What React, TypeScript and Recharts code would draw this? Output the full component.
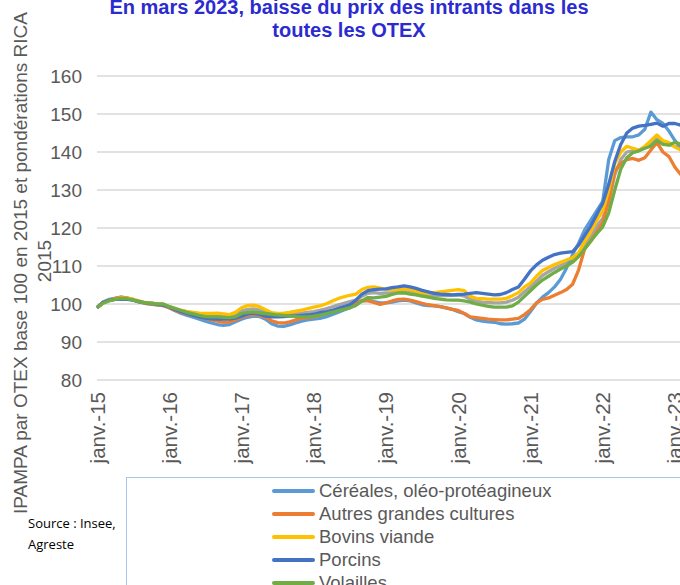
import { LineChart, Line, XAxis, YAxis, CartesianGrid } from 'recharts'

// IPAMPA par OTEX, mensuel, janv. 2015 -> mars 2023
const tickLabels = ['janv.-15', 'janv.-16', 'janv.-17', 'janv.-18', 'janv.-19', 'janv.-20', 'janv.-21', 'janv.-22', 'janv.-23']
const yTicks = [80, 90, 100, 110, 120, 130, 140, 150, 160]

const cereales = [
  99, 100.5, 101.2, 101.5, 101.8, 101.5, 101, 100.5, 100.2, 100, 99.8, 99.6,
  99, 98.2, 97.5, 97, 96.5, 96, 95.5, 95, 94.6, 94.4, 94.6, 95.3,
  96, 96.5, 96.8, 96.7, 96, 94.8, 94.2, 94.1, 94.5, 95, 95.5, 95.8,
  96, 96.2, 96.6, 97.2, 97.8, 98.4, 99, 99.8, 100.8, 101, 100.6, 100.3,
  100.3, 100.5, 100.8, 101, 100.8, 100.3, 99.8, 99.6, 99.5, 99.3, 99, 98.6,
  98, 97.5, 96.5, 95.8, 95.5, 95.3, 95.2, 94.8, 94.7, 94.8, 95, 96,
  98, 100.2, 101.8, 103, 104.5, 106.5, 109.5, 113, 116, 119.5, 122, 124.5,
  127, 138, 143, 143.8, 144, 144, 144.5, 146, 150.5, 148.5, 147.5, 145.5,
  143, 141, 139,
]
const autresGrandesCultures = [
  99, 100.5, 101, 101.5, 101.8, 101.6, 101.2, 100.6, 100.2, 100, 99.8, 99.6,
  99, 98.3, 97.8, 97.4, 97, 96.6, 96.2, 95.8, 95.5, 95.2, 95.3, 95.8,
  96.5, 97, 97.2, 97, 96.5, 95.6, 95.1, 95, 95.3, 95.8, 96.2, 96.4,
  96.6, 97, 97.5, 98, 98.4, 99, 99.6, 100.3, 100.9, 100.8, 100.4, 99.9,
  100.3, 100.8, 101.2, 101.3, 101, 100.6, 100.2, 99.8, 99.6, 99.3, 99, 98.6,
  98.3, 97.5, 96.6, 96.4, 96.2, 96, 95.9, 95.8, 95.8, 96, 96.2, 97.2,
  98.5, 100.3, 101.2, 101.6, 102.3, 103, 103.8, 105.2, 109, 114.5, 116.5, 119,
  121.5, 127, 135, 137, 138, 138.3, 137.8, 138.5, 140.5, 142.5, 140, 138.8,
  136, 134, 132,
]
const bovinsViande = [
  99, 100.3, 101, 101.3, 101.6, 101.5, 101.2, 100.8, 100.4, 100.2, 100, 99.8,
  99.3, 98.8, 98.3, 98, 97.8, 97.6, 97.5, 97.5, 97.6, 97.4, 97.2, 97.8,
  99, 99.6, 99.7, 99.3, 98.5, 97.7, 97.5, 97.6, 97.8, 98.1, 98.4, 98.8,
  99.2, 99.5, 100, 100.7, 101.4, 101.9, 102.3, 102.6, 103.8, 104.4, 104.5, 104.2,
  103.9, 103.7, 103.8, 104, 103.8, 103.4, 103, 102.8, 103, 103.2, 103.4, 103.6,
  103.8, 103.5, 102, 101.5, 101.4, 101.3, 101.3, 101.3, 101.5, 102.2, 103, 104.5,
  105.5, 107.3, 108.8, 109.6, 110.4, 111, 111.6, 112.2, 113.5, 116.5, 119, 122,
  124.5, 130, 137, 140, 141.5, 141, 140.5, 141.5, 143, 144.5, 143, 142.5,
  141.3, 140.5, 139.5,
]
const porcins = [
  99, 100.4, 101, 101.2, 101.3, 101.2, 101, 100.6, 100.3, 100.1, 99.9, 99.7,
  99.2, 98.5, 98, 97.5, 97, 96.6, 96.3, 96.1, 96, 96, 96, 96.3,
  96.8, 97.4, 97.6, 97.3, 96.8, 96.6, 96.6, 96.7, 96.8, 96.9, 97, 97.1,
  97.3, 97.7, 97.9, 98.3, 98.8, 99.3, 99.8, 101, 102.6, 103.5, 103.8, 103.9,
  104, 104.3, 104.5, 104.8, 104.5, 104.1, 103.6, 103.2, 102.8, 102.6, 102.5, 102.4,
  102.5, 102.6, 102.8, 103, 102.8, 102.6, 102.4, 102.5, 103, 103.8, 104.5, 106.5,
  108.7, 110.3, 111.5, 112.3, 113, 113.4, 113.6, 113.8, 115.5, 118, 120.5, 123.5,
  126.5, 131.5, 137.5, 142, 145, 146.3, 146.8, 147, 147.3, 147.6, 146.8, 147.5,
  147.5, 147, 146,
]
const volailles = [
  99, 100.2, 100.8, 101.2, 101.5, 101.4, 101, 100.6, 100.3, 100.2, 100, 100,
  99.3, 98.8, 98.3, 97.8, 97.4, 97, 96.7, 96.6, 96.6, 96.5, 96.4, 96.6,
  97.5, 97.8, 97.9, 97.7, 97.5, 97.3, 97.1, 97, 96.8, 96.7, 96.6, 96.6,
  96.8, 97.1, 97.4, 97.8, 98.2, 98.6, 99, 99.6, 100.8, 101.7, 101.6, 101.8,
  102, 102.5, 102.9, 102.9, 102.6, 102.4, 102.1, 101.8, 101.5, 101.3, 101.1, 101,
  101, 100.8, 100.5, 100, 99.7, 99.4, 99.2, 99.2, 99.2, 99.5, 100.5, 102,
  103.5, 105, 106.3, 107.3, 108.3, 109.2, 110, 111, 112.5, 114.5, 116.5, 118.5,
  120.3, 124, 130, 135.5, 138.5, 139.8, 140.3, 141, 141.5, 143, 142, 141.8,
  142.6, 142, 141,
]
// série grise (hors légende visible)
const autre = [
  99, 100.3, 100.9, 101.2, 101.5, 101.4, 101.1, 100.7, 100.3, 100.2, 100, 99.9,
  99.3, 98.8, 98.3, 97.9, 97.6, 97.3, 97.1, 97, 97, 96.9, 96.8, 97.2,
  98.2, 98.6, 98.7, 98.4, 97.9, 97.5, 97.3, 97.3, 97.4, 97.5, 97.6, 97.8,
  98, 98.3, 98.7, 99.2, 99.7, 100.2, 100.6, 101, 102, 102.8, 103, 102.8,
  102.9, 103, 103.2, 103.3, 103.1, 102.8, 102.5, 102.2, 102.2, 102.2, 102.2, 102.3,
  102.4, 102.1, 101.2, 100.7, 100.5, 100.4, 100.3, 100.3, 100.5, 101, 101.8, 103.2,
  104.5, 106, 107.5, 108.5, 109.4, 110.1, 110.8, 111.4, 112.8, 115.5, 117.8, 120.5,
  122.5, 127, 134, 138, 140, 140.3, 140.4, 141.2, 142.2, 143.5, 142.5, 142,
  141.5, 141, 140,
]

const series = [
  { key: 'autre', name: '', color: '#A5A5A5', values: autre },
  { key: 'cereales', name: 'Céréales, oléo-protéagineux', color: '#5B9BD5', values: cereales },
  { key: 'autres', name: 'Autres grandes cultures', color: '#ED7D31', values: autresGrandesCultures },
  { key: 'bovins', name: 'Bovins viande', color: '#FFC000', values: bovinsViande },
  { key: 'porcins', name: 'Porcins', color: '#4472C4', values: porcins },
  { key: 'volailles', name: 'Volailles', color: '#70AD47', values: volailles },
]

const data = cereales.map((_, m) => {
  const row: Record<string, number> = { m }
  series.forEach(s => { row[s.key] = s.values[m] })
  return row
})

const grey = '#595959'

function MonthTick({ x, y, payload }: any) {
  return (
    <text
      transform={`translate(${x},${y + 10}) rotate(-90)`}
      textAnchor="end"
      dominantBaseline="central"
      fontSize={20.5}
      fill={grey}
    >
      {tickLabels[payload.value / 12]}
    </text>
  )
}

export default function App() {
  return (
    <div style={{ position: 'relative', width: 680, height: 585, overflow: 'hidden', background: '#fff', fontFamily: '"Liberation Sans", Arial, sans-serif' }}>
      <style>{'body{margin:0}'}</style>
      <div style={{ position: 'absolute', left: 0, top: 0 }}>
        <LineChart width={700} height={480} data={data} margin={{ top: 76, right: 13, bottom: 0, left: 35 }}>
          <CartesianGrid vertical={false} stroke="#D9D9D9" strokeWidth={1.3} />
          <XAxis
            type="number"
            dataKey="m"
            domain={[0, 98]}
            ticks={[0, 12, 24, 36, 48, 60, 72, 84, 96]}
            height={100}
            axisLine={false}
            tickLine={false}
            tickSize={0}
            tick={<MonthTick />}
            interval={0}
          />
          <YAxis
            domain={[80, 160]}
            ticks={yTicks}
            width={62}
            axisLine={false}
            tickLine={false}
            tickSize={0}
            tickMargin={15}
            tick={{ fontSize: 19, fill: grey }}
            interval={0}
          />
          {series.map(s => (
            <Line
              key={s.key}
              type="linear"
              dataKey={s.key}
              stroke={s.color}
              strokeWidth={3.3}
              strokeLinejoin="round"
              dot={false}
              isAnimationActive={false}
            />
          ))}
        </LineChart>
      </div>

      <svg width={680} height={585} style={{ position: 'absolute', left: 0, top: 0, pointerEvents: 'none' }}>
        <text x={349} y={14} textAnchor="middle" fontSize={20} fontWeight="bold" fill="#2B2BCF">
          En mars 2023, baisse du prix des intrants dans les
        </text>
        <text x={349} y={37} textAnchor="middle" fontSize={20} fontWeight="bold" fill="#2B2BCF">
          toutes les OTEX
        </text>
        <text transform="translate(27,263) rotate(-90)" textAnchor="middle" fontSize={19} fill={grey}>
          IPAMPA par OTEX base 100 en 2015 et pondérations RICA
        </text>
        <text transform="translate(51,261) rotate(-90)" textAnchor="middle" fontSize={19} fill={grey}>
          2015
        </text>
      </svg>

      <div style={{ position: 'absolute', left: 126, top: 477, width: 600, height: 200, border: '1px solid #A9C8E8', background: '#fff' }}>
        {series.filter(s => s.name).map((s, i) => (
          <div key={s.key} style={{ position: 'absolute', left: 145, top: 1 + i * 23, height: 23, display: 'flex', alignItems: 'center' }}>
            <span style={{ display: 'inline-block', width: 43, height: 4, borderRadius: 2, background: s.color, marginRight: 4 }} />
            <span style={{ fontSize: 18.5, color: grey, whiteSpace: 'nowrap' }}>{s.name}</span>
          </div>
        ))}
      </div>

      <div style={{ position: 'absolute', left: 28, top: 513, fontFamily: '"Open Sans", sans-serif', fontSize: 13, lineHeight: '21px', color: '#000' }}>
        Source : Insee,<br />Agreste
      </div>
    </div>
  )
}
